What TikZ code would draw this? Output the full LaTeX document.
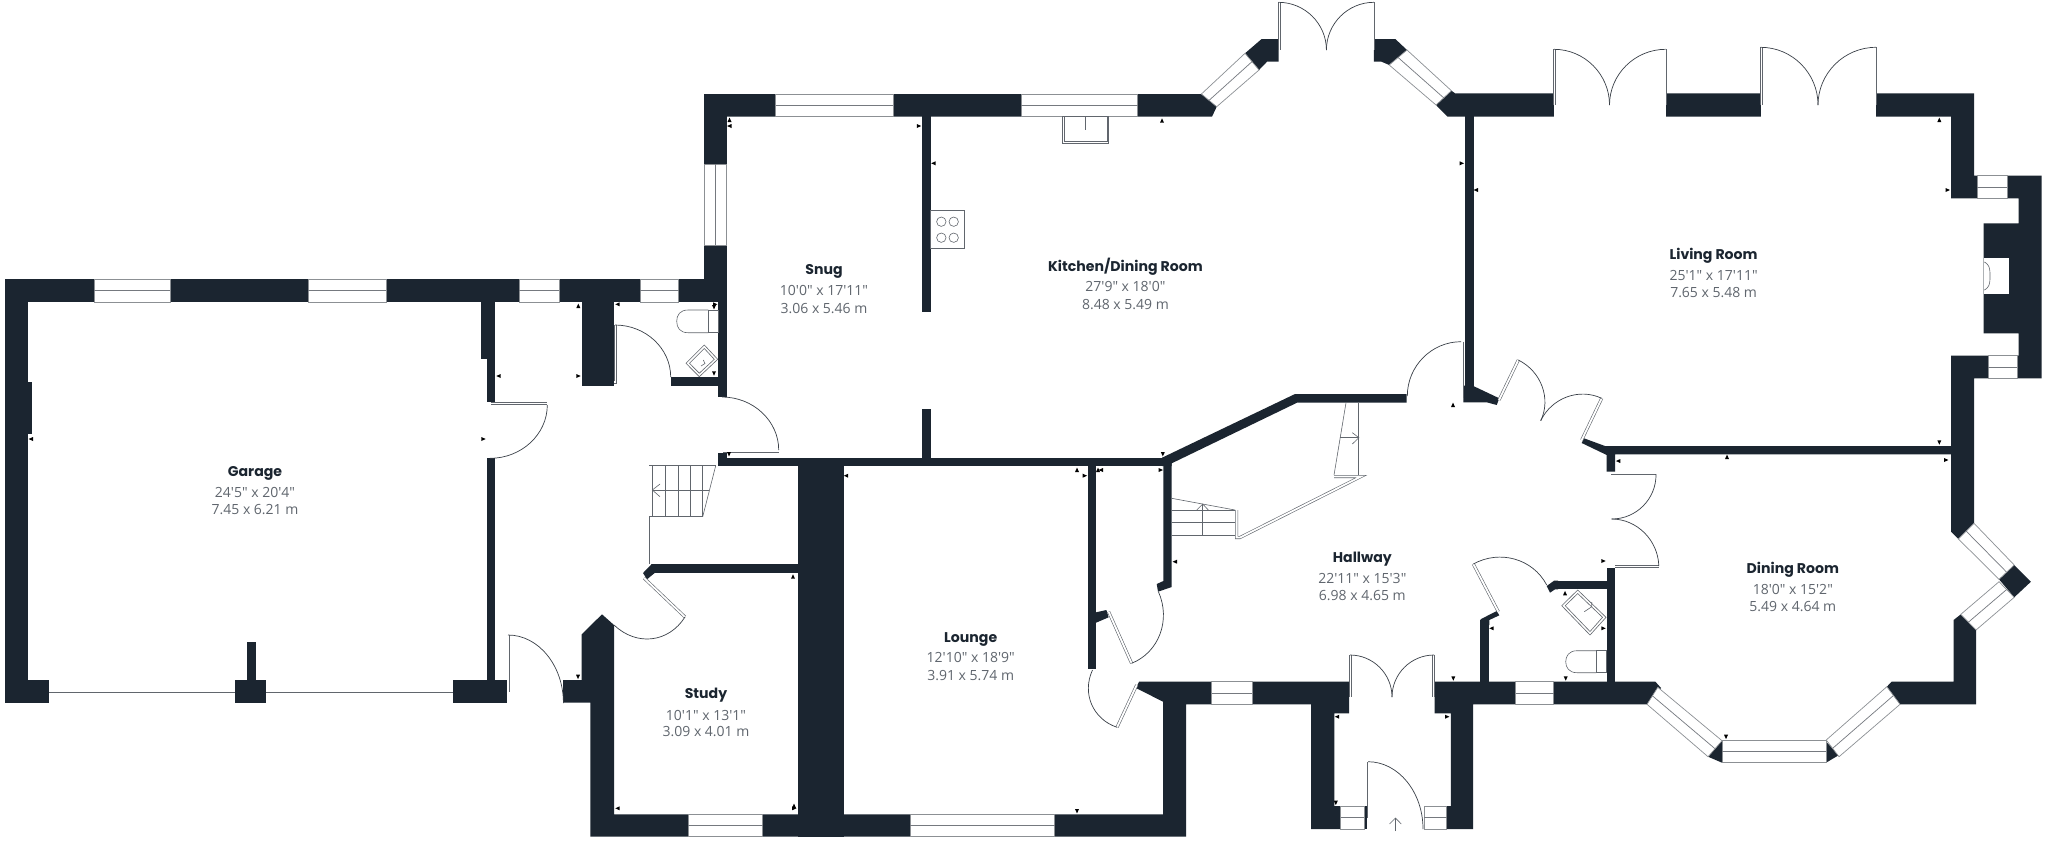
\documentclass[tikz,border=0pt]{standalone}
\usepackage{fontspec}
\usetikzlibrary{calc}
\newfontfamily\titlefont{Poppins}
\newfontfamily\dimfont{Open Sans}
\definecolor{wallc}{HTML}{1B2530}
\definecolor{dimc}{HTML}{60666E}
\definecolor{edgec}{HTML}{8C9094}
\definecolor{linec}{HTML}{3A4048}
\tikzset{
  wall/.style={fill=wallc,draw=none},
  gap/.style={fill=white,draw=none},
  winbox/.style={fill=white,draw=edgec,line width=.35pt},
  winline/.style={draw=linec!70!white,line width=.35pt},
  swing/.style={draw=linec,line width=.35pt},
  leaf/.style={draw=linec!80!white,line width=.3pt,double=white,double distance=.9pt},
  fixture/.style={draw=linec!80!white,line width=.3pt},
  mark tri/.style={fill=black},
  roomtitle/.style={font=\titlefont\bfseries\fontsize{7.05}{8}\selectfont,text=wallc,inner sep=0pt,text height=5.2pt,text depth=1.5pt},
  roomdim/.style={font=\dimfont\fontsize{7}{8}\selectfont,text=dimc,inner sep=0pt,text height=5.2pt,text depth=0pt},
}
\newcommand{\wrect}[4]{\fill[wall] (#1,#2) rectangle (#3,#4);}
\newcommand{\hwin}[4]{\path[winbox] (#1,#3) rectangle (#2,#4); \draw[winline] (#1,{(#3+#4)/2}) -- (#2,{(#3+#4)/2});}
\newcommand{\vwin}[4]{\path[winbox] (#1,#3) rectangle (#2,#4); \draw[winline] ({(#1+#2)/2},#3) -- ({(#1+#2)/2},#4);}
\newcommand{\awin}[4]{\path[winbox] #1 -- #2 -- #4 -- #3 -- cycle; \draw[winline] ($#1!.5!#3$) -- ($#2!.5!#4$);}
\newcommand{\qarc}[3]{\draw[swing] #1 .. controls ($#1!.55!#2$) and ($#3!.55!#2$) .. #3;}
\newcommand{\mku}[2]{\fill[mark tri,shift={(#1,#2)}] (-2,2) -- (2,2) -- (0,-2.4) -- cycle;}
\newcommand{\mkd}[2]{\fill[mark tri,shift={(#1,#2)}] (-2,-2) -- (2,-2) -- (0,2.4) -- cycle;}
\newcommand{\mkl}[2]{\fill[mark tri,shift={(#1,#2)}] (2,-2) -- (2,2) -- (-2.4,0) -- cycle;}
\newcommand{\mkr}[2]{\fill[mark tri,shift={(#1,#2)}] (-2,-2) -- (-2,2) -- (2.4,0) -- cycle;}
\newcommand{\room}[8]{%
  \node[roomtitle] (#1t) at (#2,#3) {#6};
  \node[roomdim] (#1a) at (#2,#4) {#7};
  \node[roomdim] (#1b) at (#2,#5) {#8};}
\begin{document}
\begin{tikzpicture}[x=0.5pt,y=-0.5pt]
\useasboundingbox (0,0) rectangle (2048,842);
\fill[white] (0,0) rectangle (2048,842);

% ---------- walls: garage and west wing
\wrect{5}{279.3}{718.3}{302.3}
\wrect{5}{279.3}{28}{703.3}
\wrect{28}{382.3}{32}{434}
\wrect{5}{680}{49}{703.3}
\wrect{234.8}{680}{266}{703.3}
\wrect{246.9}{642.3}{255.8}{680}
\wrect{453}{680}{506.7}{703.3}
\wrect{480.7}{302}{495.3}{359}
\wrect{486.7}{359}{495.3}{402.3}
\wrect{486.7}{458.3}{495.3}{680}
\wrect{581.7}{302}{614.3}{385.7}
\wrect{670.7}{377.3}{718.5}{385.7}
\wrect{718.3}{279}{726.7}{396.7}
\wrect{704}{94}{726.7}{302.3}
% ---------- north wall and snug / kitchen
\fill[wall] (704,94) -- (1201.4,94) -- (1216.7,106.7) -- (1212,116.7) -- (704,116.7) -- cycle;
\wrect{922.3}{116}{930.7}{311.7}
\wrect{922.3}{409.3}{930.7}{460}
% ---------- central spine
\wrect{718.3}{452.7}{726.7}{466}
\wrect{718.3}{457.7}{1163}{466}
\fill[wall] (1162,457.7) -- (1295,394) -- (1406.7,394) -- (1406.7,402.7) -- (1297,402.7) -- (1171.7,463.3) -- (1171.7,466) -- (1162,466) -- cycle;
\fill[wall] (1163.3,457) -- (1171.7,457) -- (1171.7,587) -- (1158,591.7) -- (1156.7,584) -- (1163.3,581) -- cycle;
\wrect{798}{466}{843.6}{836.7}
\wrect{653}{564}{798}{572.7}
\fill[wall] (651.7,564) -- (655,564) -- (655,572.7) -- (647,579.3) -- (643,573) -- cycle;
\wrect{1088}{466}{1096.4}{669}
\fill[wall] (1096,612.3) -- (1106.4,610) -- (1108.6,617.3) -- (1096,622.7) -- cycle;
% ---------- study, lounge, hall south wall, porch west
\fill[wall] (602,614.3) -- (614,625) -- (614,814.3) -- (1163,814.3) -- (1163,701.7) -- (1136,688) -- (1139,681.7) -- (1349,681.7) -- (1349,713.3) -- (1334.4,713.3) -- (1334.4,806) -- (1340.6,806) -- (1340.6,829) -- (1311,829) -- (1311,704.3) -- (1186,704.3) -- (1186,836.7) -- (590.4,836.7) -- (590.4,702.7) -- (563,702.7) -- (563,680) -- (581.7,680) -- (581.7,634.3) -- cycle;
% ---------- porch east, south wall to the bay
\fill[wall] (1434.5,681.7) -- (1655.4,681.7) -- (1661,688) -- (1648,704.3) -- (1473,704.3) -- (1473,829) -- (1446.5,829) -- (1446.5,806) -- (1450.8,806) -- (1450.8,713.3) -- (1434.5,713.3) -- cycle;
\wrect{1364.4}{806}{1366.8}{829}
% ---------- cloakroom by hall
\wrect{1480.3}{620}{1489.4}{682}
\fill[wall] (1480.5,619.3) -- (1496.7,611) -- (1499.3,615.3) -- (1489.3,620) -- (1489.3,625) -- (1480.5,625) -- cycle;
\wrect{1554}{580.7}{1606.7}{589.3}
\fill[wall] (1546.7,586) -- (1554,580.7) -- (1558,580.7) -- (1558,589.3) -- (1555,589.3) -- (1550,592.7) -- cycle;
\wrect{1606.7}{567.7}{1615}{682}
% ---------- living room shell
\wrect{1464.9}{110}{1473.6}{390}
\fill[wall] (1472.7,385.7) -- (1499.3,398.3) -- (1496.7,405) -- (1486.7,402.3) -- (1463.3,402.3) -- (1463.3,385.7) -- cycle;
\fill[wall] (1451.4,90.7) -- (1455,93.3) -- (1974,93.3) -- (1974,175.7) -- (2041.7,175.7) -- (2041.7,378.3) -- (1974,378.3) -- (1974,523.3) -- (1958.4,539) -- (1951,531.7) -- (1951,355.7) -- (2018.6,355.7) -- (2018.6,333.3) -- (1983.5,333.3) -- (1983.5,223.3) -- (2018.6,223.3) -- (2018.6,198.3) -- (1951,198.3) -- (1951,116.7) -- (1447.5,116.7) -- (1436,105) -- cycle;
\path[gap] (1554,90) rectangle (1665.7,120);
\path[gap] (1760.7,90) rectangle (1876,120);
\path[gap] (1983.5,258.3) rectangle (2008.7,294);
\draw[fixture,rounded corners=1.5pt] (1984.3,262) -- (1988,264) -- (1990,270) -- (1990,282) -- (1988,288) -- (1984.3,290);
% ---------- dining room
\fill[wall] (1584,438.3) -- (1605,446) -- (1952,446) -- (1952,454.3) -- (1615,454.3) -- (1615,471.7) -- (1606.7,471.7) -- (1606.7,455) -- (1581.7,443) -- cycle;
\fill[wall] (2014.2,565) -- (2030.9,581.7) -- (2014.2,597.3) -- (1999,579.3) -- cycle;
\fill[wall] (1960.8,614.3) -- (1976,630) -- (1976,704.3) -- (1900,704.3) -- (1886.8,686.7) -- (1891.6,681.7) -- (1953.6,681.7) -- (1953.6,620) -- cycle;
\fill[wall] (1722,740.7) -- (1722,762.7) -- (1708,756.7) -- cycle;
\fill[wall] (1826,741.7) -- (1826,762.7) -- (1839,755) -- cycle;
% ---------- north bay piers
\fill[wall] (1261.6,39) -- (1278.5,39) -- (1278.5,61.7) -- (1267,61.7) -- (1259,70) -- (1245,53.3) -- cycle;
\fill[wall] (1373.9,39) -- (1395.3,39) -- (1407,50) -- (1389.2,65) -- (1381.5,61.7) -- (1373.9,61.7) -- cycle;

% ---------- windows
\hwin{94}{170}{279.3}{302.3}
\hwin{308}{386}{279.3}{302.3}
\hwin{519}{559}{279.3}{302.3}
\hwin{640}{678.7}{279.3}{302.3}
\hwin{775.5}{893.3}{94}{116.7}
\hwin{1021.3}{1137.7}{94}{116.7}
\hwin{688.4}{762.5}{814.3}{836.7}
\hwin{910}{1054.8}{814.3}{836.7}
\hwin{1211.5}{1252.3}{681.7}{704.3}
\hwin{1515.6}{1553.8}{681.7}{704.3}
\hwin{1722}{1826}{740.7}{762.7}
\hwin{1977}{2007}{175.7}{198.3}
\hwin{1988}{2017.4}{355.7}{378.3}
\hwin{1340.6}{1364.4}{806}{829}
\hwin{1424}{1446.5}{806}{829}
\vwin{704}{726.7}{164.3}{245}
\awin{(1201.4,94)}{(1245,53.3)}{(1216.7,106.7)}{(1259,70)}
\awin{(1407,50)}{(1451.4,90.7)}{(1389.2,65)}{(1436,105)}
\awin{(1974,523.3)}{(2014.2,565)}{(1958.4,539)}{(1999,579.3)}
\awin{(2014.2,597.3)}{(1976,630)}{(1999,581.7)}{(1960.8,614.3)}
\awin{(1900,704.3)}{(1839,756.7)}{(1886.8,686.7)}{(1826.2,740)}
\awin{(1647,704.3)}{(1708,756.7)}{(1657.8,687.3)}{(1722,740.7)}

% ---------- door leaves
\draw[leaf] (49,691) -- (234.8,691);
\draw[leaf] (266,691) -- (453,691);
\draw[leaf] (490.7,403.5) -- (547.3,403.5);
\draw[leaf] (508,635) -- (508,691.7);
\draw[leaf] (615.5,325) -- (615.5,382) -- (614,382);
\draw[leaf] (722.7,451.3) -- (778.7,451.3);
\draw[leaf] (644,578) -- (685,617);
\draw[leaf] (1108.6,611.7) -- (1131.6,663.3);
\draw[leaf] (1136.7,685) -- (1117,727.3);
\draw[leaf] (1462.3,341.7) -- (1462.3,398.3);
\draw[leaf] (1499,400) -- (1518.3,360);
\draw[leaf] (1581.7,440) -- (1601.7,398.3);
\draw[leaf] (1611,473) -- (1656,473);
\draw[leaf] (1615,566.5) -- (1658.8,566.5);
\draw[leaf] (1498.3,611.7) -- (1473.3,564);
\draw[leaf] (1350.5,655) -- (1350.5,697);
\draw[leaf] (1433.5,655) -- (1433.5,697);
\draw[leaf] (1368.7,761.7) -- (1368.7,817.7);
\draw[leaf] (1279.5,2.3) -- (1279.5,50);
\draw[leaf] (1373,2.3) -- (1373,50);
\draw[leaf] (1554.5,49.3) -- (1554.5,105);
\draw[leaf] (1665,49.3) -- (1665,105);
\draw[leaf] (1761.5,47.3) -- (1761.5,105);
\draw[leaf] (1875,47.3) -- (1875,105);

% ---------- door swings
\qarc{(547.3,405)}{(547.3,458.3)}{(490,458.3)}
\qarc{(508,635)}{(563.4,635)}{(563.4,703)}
\qarc{(615,325)}{(670.7,325)}{(670.7,377)}
\qarc{(778.7,450)}{(778.7,397)}{(722,397)}
\qarc{(685,617)}{(655,664)}{(614,625)}
\qarc{(1131.6,663.3)}{(1181.4,643.3)}{(1158.4,591.7)}
\qarc{(1117,727.3)}{(1072.8,712.3)}{(1092.5,670)}
\qarc{(1461,341.7)}{(1407.3,341.7)}{(1407.3,396)}
\qarc{(1518.3,360)}{(1560,380.7)}{(1540.7,420.7)}
\qarc{(1601.7,398.3)}{(1560.7,379)}{(1540.7,420.7)}
\qarc{(1656,474)}{(1656.7,519)}{(1611.7,519)}
\qarc{(1658.8,566)}{(1657.5,519)}{(1611.7,519)}
\qarc{(1473.3,564)}{(1521.7,537.3)}{(1546.7,585)}
\qarc{(1350,655)}{(1392,655)}{(1392,697)}
\qarc{(1434,655)}{(1392,655)}{(1392,697)}
\qarc{(1368,761.7)}{(1423,761.7)}{(1423,829)}
\qarc{(1278.5,2.3)}{(1326.4,2.3)}{(1326.4,50)}
\qarc{(1373.9,2.3)}{(1326.4,2.3)}{(1326.4,50)}
\qarc{(1554,49.3)}{(1609.5,49.3)}{(1609.5,105)}
\qarc{(1665.7,49.3)}{(1609.5,49.3)}{(1609.5,105)}
\qarc{(1760.7,47.3)}{(1818,47.3)}{(1818,105)}
\qarc{(1876,47.3)}{(1818,47.3)}{(1818,105)}

% ---------- west stair
\draw[leaf] (649.3,464.2) -- (715.7,464.2);
\draw[fixture] (652.3,465.7) -- (652.3,516.7);
\draw[fixture] (715.7,465.7) -- (702.7,516.7);
\draw[fixture] (665.7,465.7) -- (665.7,516.7);
\draw[fixture] (678,465.7) -- (678,516.7);
\draw[fixture] (690.7,465.7) -- (690.7,516.7);
\draw[fixture] (702.7,465.7) -- (702.7,516.7);
\draw[fixture] (652.3,490) -- (709.3,490);
\draw[fixture] (660,484) -- (652.3,490) -- (660,496.7);
\draw[leaf] (650.8,564) -- (650.8,517.7) -- (702.7,517.7);
% ---------- east stair
\draw[fixture] (1346,402.7) -- (1334,475);
\draw[fixture] (1358.3,402.7) -- (1358.3,475);
\draw[fixture] (1340,437.7) -- (1358.3,437.7);
\draw[fixture] (1352.3,432.7) -- (1358.9,437.7) -- (1352.3,444);
\draw[leaf] (1334,476.5) -- (1361,476.5) -- (1240,537.5) -- (1236.6,537.5) -- (1236.6,510);
\draw[fixture] (1171.7,498.3) -- (1235,510);
\draw[fixture] (1171.7,510) -- (1235,510);
\draw[fixture] (1171.7,522.3) -- (1235,522.3);
\draw[fixture] (1171.7,535) -- (1235,535);
\draw[fixture] (1202.7,504) -- (1202.7,535);
\draw[fixture] (1196.7,510) -- (1202.7,504) -- (1208.3,510);
% ---------- entry arrow
\draw[fixture] (1395.4,831) -- (1395.4,818);
\draw[fixture] (1389.5,824) -- (1395.4,818) -- (1401.3,824);

% ---------- hob and sink
\draw[fixture] (930.7,210.7) rectangle (964,248.3);
\draw[fixture] (941.3,221.7) circle[radius=4.7];
\draw[fixture] (953.7,221.7) circle[radius=4.7];
\draw[fixture] (941.3,237.7) circle[radius=4.7];
\draw[fixture] (953.7,237.7) circle[radius=4.7];
\draw[fixture] (1062.7,116.7) rectangle (1108.6,143.3);
\draw[fixture] (1064.2,116.7) -- (1064.2,141.3) -- (1107.1,141.3) -- (1107.1,116.7);
\draw[fixture] (1085.6,116.7) -- (1085.6,130);

% ---------- WC fittings
\draw[fixture] (708.3,310) -- (688,310) .. controls (680,310) and (676.7,315) .. (676.7,321.3) .. controls (676.7,327.7) and (680,332.7) .. (688,332.7) -- (708.3,332.7);
\draw[fixture] (708.3,310) rectangle (718.3,332.7);
\draw[fixture] (704.3,345) -- (717.7,359.3) -- (699.3,376.7) -- (686,363.3) -- cycle;
\draw[fixture] (704.3,348.5) -- (714.3,359.3) -- (699.3,373.2) -- (689.5,363.3) -- cycle;
\draw[fixture] (701,366) -- (705,363.5) -- (703.3,360);
\draw[fixture] (1596,650.7) -- (1577,650.7) .. controls (1569,650.7) and (1565.7,656) .. (1565.7,661.7) .. controls (1565.7,667.5) and (1569,672.7) .. (1577,672.7) -- (1596,672.7);
\draw[fixture] (1596,650.7) rectangle (1606.7,672.7);
\draw[fixture] (1577.7,590) -- (1606,617.3) -- (1590,635) -- (1561.7,605.7) -- cycle;
\draw[fixture] (1577.7,593.5) -- (1602.5,617.3) -- (1590,631.5) -- (1565.2,605.7) -- cycle;
\draw[fixture] (1584.3,611.7) -- (1591.7,606.7) -- (1591.7,602);

% ---------- measure marks
\mku{578.3}{306} \mkl{617.7}{304.3} \mkl{498.7}{376} \mkr{578.3}{376}
\mkr{483.3}{439} \mkl{31}{439} \mkr{715}{304.3} \mkd{714}{307} \mkd{714}{373.3}
\mkd{729}{454} \mku{793}{576.7} \mkd{578}{676.7}
\mkl{846.2}{475.7} \mku{1077}{470} \mkr{1084.7}{475.7} \mku{1098}{470} \mkl{1101}{470}
\mkr{1160.6}{470} \mkd{1162.8}{454} \mkl{1175}{561.7}
\mkl{617.7}{808.3} \mkr{794}{808.3} \mku{794}{806} \mkd{1077}{811}
\mku{729.5}{120} \mkl{729.5}{126} \mkr{918.8}{126} \mkl{933.6}{163.3} \mku{1162}{120.7}
\mkr{1461.6}{163.3} \mkl{1476}{190} \mku{1453}{405}
\mku{1939.3}{120} \mkr{1947.5}{190} \mkd{1939.3}{442.3}
\mkl{1618.3}{461} \mkr{1603.3}{561} \mku{1565}{593.3} \mkl{1491.7}{628.3} \mkr{1603.3}{628.3}
\mkd{1453.3}{678.3} \mkd{1565.7}{678.3} \mkd{1726}{736.7}
\mkl{1337.2}{716.7} \mkr{1447}{716.7} \mkd{1335.8}{802.7}
\mku{1727}{457} \mkr{1946}{460}

% ---------- room labels
\room{garage}{255}{473}{492.3}{509.3}{Garage}{24'5" x 20'4"}{7.45 x 6.21 m}
\room{study}{706}{695}{715}{731.7}{Study}{10'1" x 13'1"}{3.09 x 4.01 m}
\room{lounge}{970.7}{638.3}{657.7}{675}{Lounge}{12'10" x 18'9"}{3.91 x 5.74 m}
\room{hallway}{1362.3}{559}{578.3}{595.7}{Hallway}{22'11" x 15'3"}{6.98 x 4.65 m}
\room{dining}{1792.8}{570}{589}{606.3}{Dining Room}{18'0" x 15'2"}{5.49 x 4.64 m}
\room{living}{1713.6}{255.7}{275.7}{292.3}{Living Room}{25'1" x 17'11"}{7.65 x 5.48 m}
\room{kitchen}{1125.4}{267.7}{286.7}{304.3}{Kitchen/Dining Room}{27'9" x 18'0"}{8.48 x 5.49 m}
\room{snug}{824}{271}{290.7}{308}{Snug}{10'0" x 17'11"}{3.06 x 5.46 m}
\end{tikzpicture}
\end{document}
